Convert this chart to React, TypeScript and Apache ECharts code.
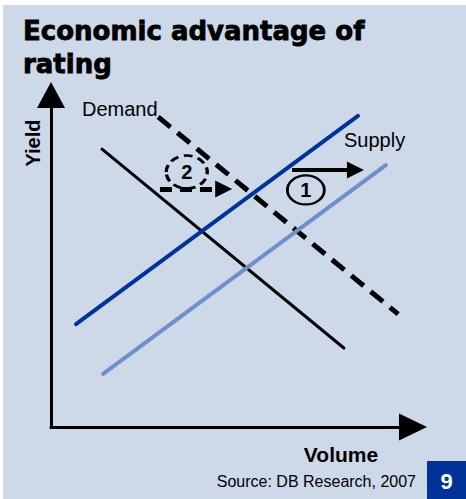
import React, { useEffect, useRef } from "react";
import * as echarts from "echarts";

// Conceptual chart: values are in arbitrary units (0..100) on both axes
const demand: number[][] = [[14.1, 83.7], [80.9, 23.8]];
const demandShifted: number[][] = [[29.6, 93.4], [95.9, 34.0]];
const supply: number[][] = [[6.9, 31.0], [84.8, 93.7]];
const supplyShifted: number[][] = [[14.4, 16.0], [92.5, 78.9]];

// Annotation arrows (start, end) and markers
const arrow1: number[][] = [[66.6, 77.4], [84.1, 77.4]];
const arrow2: number[][] = [[30.1, 71.7], [47.7, 71.7]];
const marker1: number[] = [70.4, 71.4];
const marker2: number[] = [37.5, 76.8];

const titleText = "Economic advantage of\nrating";
const xName = "Volume";
const yName = "Yield";
const demandLabel = "Demand";
const supplyLabel = "Supply";
const sourceText = "Source: DB Research, 2007";
const pageNumber = "9";

const ellipsePath = "path://M0,10 A10,10 0 1,1 20,10 A10,10 0 1,1 0,10 Z";

export default function App() {
  const ref = useRef<HTMLDivElement>(null);
  useEffect(() => {
    if (!ref.current) return;
    const chart = echarts.init(ref.current, null, { renderer: "svg" });
    const darkBlue = "#003399";
    const lightBlue = "#6f8fca";
    chart.setOption({
      animation: false,
      backgroundColor: "#ffffff",
      title: {
        text: titleText,
        left: 18,
        top: 9,
        textStyle: {
          fontFamily: "DejaVu Sans",
          fontWeight: "bold",
          fontSize: 26,
          lineHeight: 33,
          color: "#000",
          textBorderColor: "#000",
          textBorderWidth: 0.8,
        },
      },
      graphic: [
        {
          type: "rect",
          z: -10,
          silent: true,
          shape: { x: 3, y: 5, width: 463, height: 494 },
          style: { fill: "#cdd8e9" },
        },
        {
          type: "text",
          x: 32.5,
          y: 143,
          rotation: Math.PI / 2,
          style: {
            text: yName,
            fontFamily: "Liberation Sans",
            fontWeight: "bold",
            fontSize: 20,
            fill: "#000",
            align: "center",
            verticalAlign: "middle",
          },
        },
        {
          type: "text",
          x: 341,
          y: 454,
          style: {
            text: xName,
            fontFamily: "Liberation Sans",
            fontWeight: "bold",
            fontSize: 21,
            fill: "#000",
            align: "center",
            verticalAlign: "middle",
          },
        },
        {
          type: "text",
          x: 82,
          y: 109,
          style: {
            text: demandLabel,
            fontFamily: "Liberation Sans",
            fontSize: 20,
            fill: "#000",
            align: "left",
            verticalAlign: "middle",
          },
        },
        {
          type: "text",
          x: 344,
          y: 140,
          style: {
            text: supplyLabel,
            fontFamily: "Liberation Sans",
            fontSize: 20,
            fill: "#000",
            align: "left",
            verticalAlign: "middle",
          },
        },
        {
          type: "text",
          x: 416,
          y: 481,
          style: {
            text: sourceText,
            fontFamily: "Liberation Sans",
            fontSize: 16,
            fill: "#000",
            align: "right",
            verticalAlign: "middle",
          },
        },
        {
          type: "rect",
          shape: { x: 427, y: 461, width: 39, height: 38 },
          style: { fill: darkBlue },
        },
        {
          type: "text",
          x: 446.5,
          y: 481,
          style: {
            text: pageNumber,
            fontFamily: "Liberation Sans",
            fontWeight: "bold",
            fontSize: 22,
            fill: "#fff",
            align: "center",
            verticalAlign: "middle",
          },
        },
      ],
      grid: { left: 51, right: 53, top: 95, bottom: 72 },
      xAxis: {
        type: "value",
        min: 0,
        max: 100,
        axisLine: {
          show: true,
          symbol: ["none", "triangle"],
          symbolSize: [27, 28],
          lineStyle: { color: "#000", width: 3 },
        },
        axisTick: { show: false },
        axisLabel: { show: false },
        splitLine: { show: false },
      },
      yAxis: {
        type: "value",
        min: 0,
        max: 100,
        axisLine: {
          show: true,
          symbol: ["none", "triangle"],
          symbolSize: [28, 26],
          lineStyle: { color: "#000", width: 3 },
        },
        axisTick: { show: false },
        axisLabel: { show: false },
        splitLine: { show: false },
      },
      series: [
        {
          name: "Demand",
          type: "line",
          data: demand,
          symbol: "none",
          lineStyle: { color: "#000", width: 3, cap: "round" },
        },
        {
          name: "Demand (shifted)",
          type: "line",
          data: demandShifted,
          symbol: "none",
          lineStyle: { color: "#000", width: 5, type: [16, 9], cap: "butt" },
          markLine: {
            silent: true,
            symbol: ["none", "triangle"],
            symbolSize: [17, 17],
            label: { show: false },
            lineStyle: { color: "#000", width: 5, type: [12, 8] },
            data: [
              [
                { coord: arrow2[0] },
                { coord: arrow2[1] },
              ],
            ],
          },
          markPoint: {
            silent: true,
            symbol: ellipsePath,
            symbolSize: [41, 33],
            itemStyle: {
              color: "rgba(0,0,0,0)",
              borderColor: "#000",
              borderWidth: 3,
              borderType: [8, 5],
            },
            label: {
              show: true,
              position: "inside",
              color: "#000",
              fontFamily: "Liberation Sans",
              fontWeight: "bold",
              fontSize: 20,
              formatter: "2",
            },
            data: [{ coord: marker2 }],
          },
        },
        {
          name: "Supply",
          type: "line",
          data: supply,
          symbol: "none",
          lineStyle: { color: darkBlue, width: 4, cap: "round" },
        },
        {
          name: "Supply (shifted)",
          type: "line",
          data: supplyShifted,
          symbol: "none",
          lineStyle: { color: lightBlue, width: 4, cap: "round" },
          markLine: {
            silent: true,
            symbol: ["none", "triangle"],
            symbolSize: [17, 17],
            label: { show: false },
            lineStyle: { color: "#000", width: 4, type: "solid" },
            data: [
              [
                { coord: arrow1[0] },
                { coord: arrow1[1] },
              ],
            ],
          },
          markPoint: {
            silent: true,
            symbol: ellipsePath,
            symbolSize: [37, 29],
            itemStyle: {
              color: "rgba(0,0,0,0)",
              borderColor: "#000",
              borderWidth: 2.5,
            },
            label: {
              show: true,
              position: "inside",
              color: "#000",
              fontFamily: "Liberation Sans",
              fontWeight: "bold",
              fontSize: 20,
              formatter: "1",
            },
            data: [{ coord: marker1 }],
          },
        },
      ],
    });
    return () => chart.dispose();
  }, []);
  return (
    <div
      ref={ref}
      style={{ position: "fixed", left: 0, top: 0, width: 466, height: 499 }}
    />
  );
}
